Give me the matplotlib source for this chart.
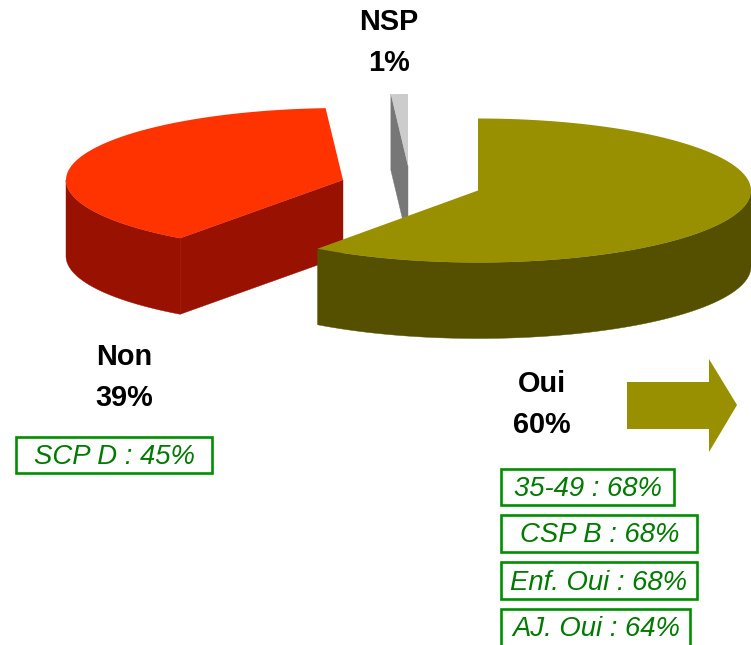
#!/usr/bin/env python3
"""Figure: exploded 3D-look pie (Oui / Non / NSP) with green callout boxes."""

import matplotlib

matplotlib.use("Agg")
import matplotlib.pyplot as plt
import numpy as np
from matplotlib.patches import Polygon, Rectangle

W, H = 751, 645

labels = ["Oui", "Non", "NSP"]
shares = [60, 39, 1]
callouts = ["SCP D : 45%", "35-49 : 68%", "CSP B : 68%", "Enf. Oui : 68%", "AJ. Oui : 64%"]

# layout, pixels
apex = [(478, 190.5), (343, 180), (408, 166)]
radii = [273, 277, 273]
label_xy = [(542, 384, 425), (124, 357, 398), (389, 22, 63)]
top_colors = ["#999000", "#ff3300", "#cccccc"]
side_colors = ["#555000", "#991100", "#777777"]
box_rects = [(16, 437, 196, 36), (501, 469, 173, 36), (501, 515, 196, 37),
             (501, 562, 196, 37), (501, 609, 189, 40)]
text_xy = [(115, 457.5), (588, 488.5), (600, 535.5), (599, 582.5), (596, 629.5)]
RY, DEPTH = 72, 76
OLIVE = "#999000"
GREEN = "#008f00"
TEXT_GREEN = "#007a00"


def rim_point(cx, cy, rx, deg):
    t = np.radians(deg)
    return cx + rx * np.sin(t), cy - RY * np.cos(t)


def main():
    plt.rcParams["font.family"] = ["Liberation Sans", "DejaVu Sans"]
    fig = plt.figure(figsize=(W / 100, H / 100), dpi=100)
    ax = fig.add_axes([0, 0, 1, 1])
    ax.set_xlim(0, W)
    ax.set_ylim(H, 0)
    ax.axis("off")

    # angles run clockwise from 12 o'clock
    edges = np.cumsum([0] + shares) * 3.6

    # far slices first, Oui last since it sits in front
    for i in [2, 1, 0]:
        cx, cy = apex[i]
        rx = radii[i]
        start, end = edges[i], edges[i + 1]

        # cut face at the start angle (Oui's is hidden behind its own top)
        if i > 0:
            sx, sy = rim_point(cx, cy, rx, start)
            face = [(sx, sy), (cx, cy), (cx, cy + DEPTH), (sx, sy + DEPTH)]
            ax.add_patch(Polygon(face, closed=True, fc=side_colors[i], ec=side_colors[i], lw=0.3, zorder=i * -2))

        # outer wall, only the part of the rim that faces front
        lo, hi = max(start, 90), min(end, 270)
        if hi > lo:
            a = np.linspace(lo, hi, 200)
            x, y = rim_point(cx, cy, rx, a)
            wall = np.r_[np.c_[x, y], np.c_[x, y + DEPTH][::-1]]
            ax.add_patch(Polygon(wall, closed=True, fc=side_colors[i], ec=side_colors[i], lw=0.3, zorder=i * -2))

        a = np.linspace(start, end, 200)
        x, y = rim_point(cx, cy, rx, a)
        top = np.r_[[(cx, cy)], np.c_[x, y]]
        ax.add_patch(Polygon(top, closed=True, fc=top_colors[i], ec="none", zorder=i * -2 + 1))

    for name, share, (x, y1, y2) in zip(labels, shares, label_xy):
        ax.text(x, y1, name, ha="center", va="center", fontsize=20.8, fontweight="bold", color="black")
        ax.text(x, y2, f"{share}%", ha="center", va="center", fontsize=20.8, fontweight="bold", color="black")

    arrow = [(627, 382), (709, 382), (709, 359), (737, 405), (709, 452), (709, 429), (627, 429)]
    ax.add_patch(Polygon(arrow, closed=True, fc=OLIVE, ec="none"))

    for txt, (x, y, w, h), (tx, ty) in zip(callouts, box_rects, text_xy):
        ax.add_patch(Rectangle((x, y), w, h, fc="white", ec=GREEN, lw=1.9, zorder=3))
        ax.text(tx, ty, txt, ha="center", va="center", fontsize=19.8, style="italic",
                color=TEXT_GREEN, zorder=4)

    fig.savefig("out.png", dpi=100)
    plt.close(fig)


if __name__ == "__main__":
    main()
